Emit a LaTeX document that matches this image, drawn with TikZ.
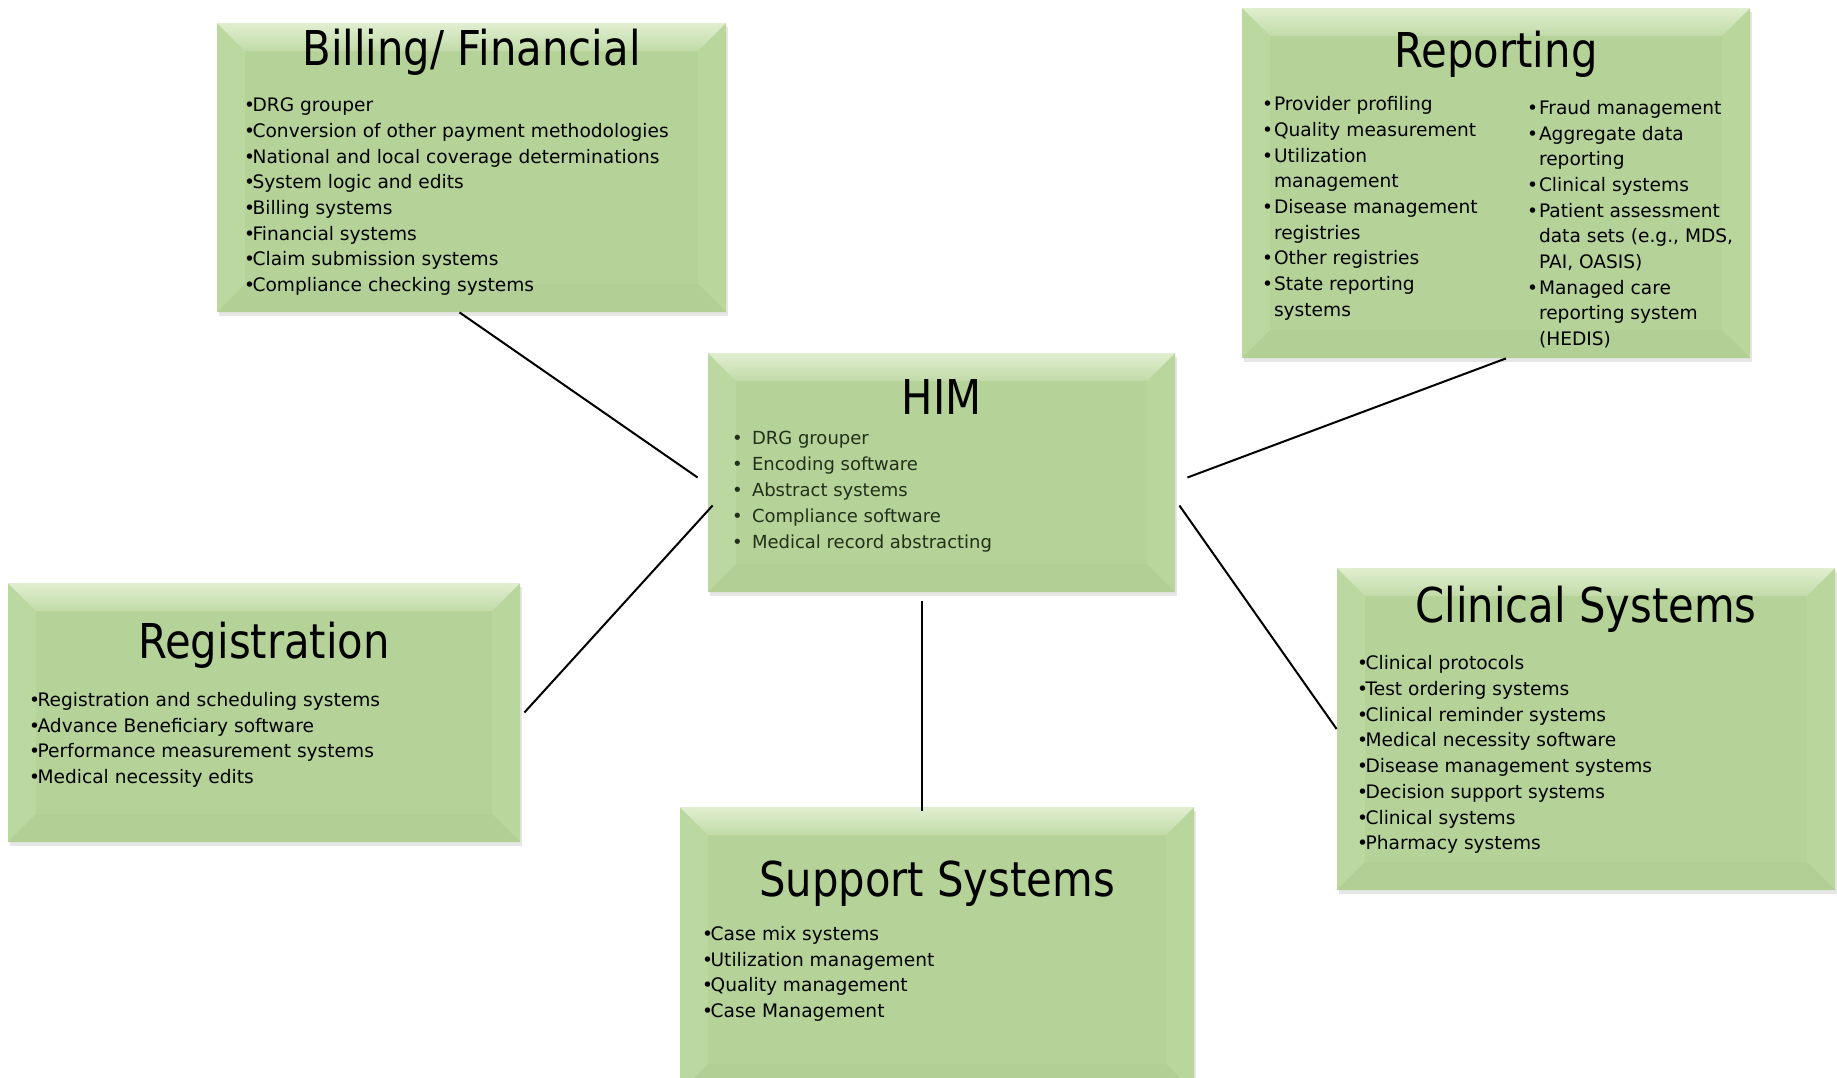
\documentclass[tikz,border=0pt]{standalone}
\usepackage{fontspec}
\setmainfont{DejaVu Sans}
\newfontfamily\headfont[FakeStretch=0.87]{DejaVu Sans}
\usetikzlibrary{calc,fit,shadows}
\definecolor{boxgreen}{HTML}{B5D298}
\definecolor{bevtop}{HTML}{E0EFD0}
\definecolor{bevleft}{HTML}{BCD8A1}
\definecolor{bevright}{HTML}{B9D69D}
\definecolor{bevbottom}{HTML}{B2D095}
\definecolor{himtext}{HTML}{22301A}
\newcommand\bul{\makebox[4.3pt][l]{•}}
\newcommand\rbul{\makebox[6pt][l]{•}}
\newcommand\rind{\hspace*{6pt}}
\tikzset{
  panel/.style={fill=boxgreen, inner sep=0pt,
    drop shadow={shadow xshift=1pt, shadow yshift=-2pt, fill=black!50, opacity=0.2},
    path picture={
      \path (path picture bounding box.north west) coordinate (pnw)
            (path picture bounding box.north east) coordinate (pne)
            (path picture bounding box.south west) coordinate (psw)
            (path picture bounding box.south east) coordinate (pse);
      \fill[bevleft] (pnw) -- ([shift={(28,28)}]pnw) -- ([shift={(28,-28)}]psw) -- (psw) -- cycle;
      \fill[bevright] (pne) -- ([shift={(-28,28)}]pne) -- ([shift={(-28,-28)}]pse) -- (pse) -- cycle;
      \fill[bevbottom] (psw) -- ([shift={(28,-28)}]psw) -- ([shift={(-28,-28)}]pse) -- (pse) -- cycle;
      \shade[top color=bevtop, bottom color=boxgreen!70!bevtop]
        (pnw) -- (pne) -- ([shift={(-28,28)}]pne) -- ([shift={(28,28)}]pnw) -- cycle;
    }},
  head/.style={font=\headfont\fontsize{24pt}{28pt}\selectfont, anchor=base, inner sep=0pt},
  item/.style={font=\fontsize{9.3pt}{13pt}\selectfont, anchor=base west, inner sep=0pt},
  himitem/.style={item, font=\fontsize{9pt}{13pt}\selectfont, text=himtext},
  spoke/.style={line width=1pt}
}
\begin{document}
\begin{tikzpicture}[x=0.5pt,y=-0.5pt]
  \useasboundingbox (0,0) rectangle (1837,1077);
  % boxes
  \node[panel, fit={(217,23) (726,312)}] (bill) {};
  \node[panel, fit={(708,353) (1175,592)}] (him) {};
  \node[panel, fit={(1242,8) (1750,358)}] (rep) {};
  \node[panel, fit={(8,583) (520,842)}] (reg) {};
  \node[panel, fit={(680,807) (1194,1092)}] (sup) {};
  \node[panel, fit={(1337,568) (1835,890)}] (clin) {};
  % spokes
  \draw[spoke] ([shift={(-12,0)}]bill.south) -- ([shift={(-10,5)}]him.west);
  \draw[spoke] ([shift={(10,0)}]rep.south) -- ([shift={(12,5)}]him.east);
  \draw[spoke] ([shift={(4,0)}]reg.east) -- ([shift={(5,33)}]him.west);
  \draw[spoke] ([shift={(-19.5,9)}]him.south) -- ([shift={(-15,4)}]sup.north);
  \draw[spoke] ([shift={(4,33)}]him.east) -- (clin.west);
  % titles
  \node[head] (billhead) at ($(bill.north)+(0,43)$) {Billing/ Financial};
  \node[head] (himhead) at ($(him.north)+(0,62)$) {HIM};
  \node[head] (rephead) at ($(rep.north)+(0,60)$) {Reporting};
  \node[head] (reghead) at ($(reg.north)+(0,76)$) {Registration};
  \node[head] (suphead) at ($(sup.north)+(0,90)$) {Support Systems};
  \node[head] (clinhead) at ($(clin.north)+(0,55)$) {Clinical Systems};
  % lists
  \foreach \t [count=\i] in {DRG grouper, Conversion of other payment methodologies,
      National and local coverage determinations, System logic and edits, Billing systems,
      Financial systems, Claim submission systems, Compliance checking systems}
    \node[item] (bill-\i) at ($(bill.north west)+(27,63.3+25.7*\i)$) {\bul\t};
  \foreach \t [count=\i] in {DRG grouper, Encoding software, Abstract systems,
      Compliance software, Medical record abstracting}
    \node[himitem] (him-\i) at ($(him.north west)+(24,66.5+25.8*\i)$) {\makebox[10pt][l]{•}\t};
  \foreach \t [count=\i] in {\rbul Provider profiling, \rbul Quality measurement, \rbul Utilization,
      \rind management, \rbul Disease management, \rind registries, \rbul Other registries,
      \rbul State reporting, \rind systems}
    \node[item] (repl-\i) at ($(rep.north west)+(20,77.3+25.7*\i)$) {\t};
  \foreach \t [count=\i] in {\rbul Fraud management, \rbul Aggregate data, \rind reporting,
      \rbul Clinical systems, \rbul Patient assessment, {\rind data sets (e.g., MDS,},
      {\rind PAI, OASIS)}, \rbul Managed care, \rind reporting system, \rind (HEDIS)}
    \node[item] (repr-\i) at ($(rep.north west)+(285,81+25.7*\i)$) {\t};
  \foreach \t [count=\i] in {Registration and scheduling systems, Advance Beneficiary software,
      Performance measurement systems, Medical necessity edits}
    \node[item] (reg-\i) at ($(reg.north west)+(21,98+25.7*\i)$) {\bul\t};
  \foreach \t [count=\i] in {Case mix systems, Utilization management, Quality management,
      Case Management}
    \node[item] (sup-\i) at ($(sup.north west)+(22,108+25.7*\i)$) {\bul\t};
  \foreach \t [count=\i] in {Clinical protocols, Test ordering systems, Clinical reminder systems,
      Medical necessity software, Disease management systems, Decision support systems,
      Clinical systems, Pharmacy systems}
    \node[item] (clin-\i) at ($(clin.north west)+(20,76.5+25.7*\i)$) {\bul\t};
\end{tikzpicture}
\end{document}
